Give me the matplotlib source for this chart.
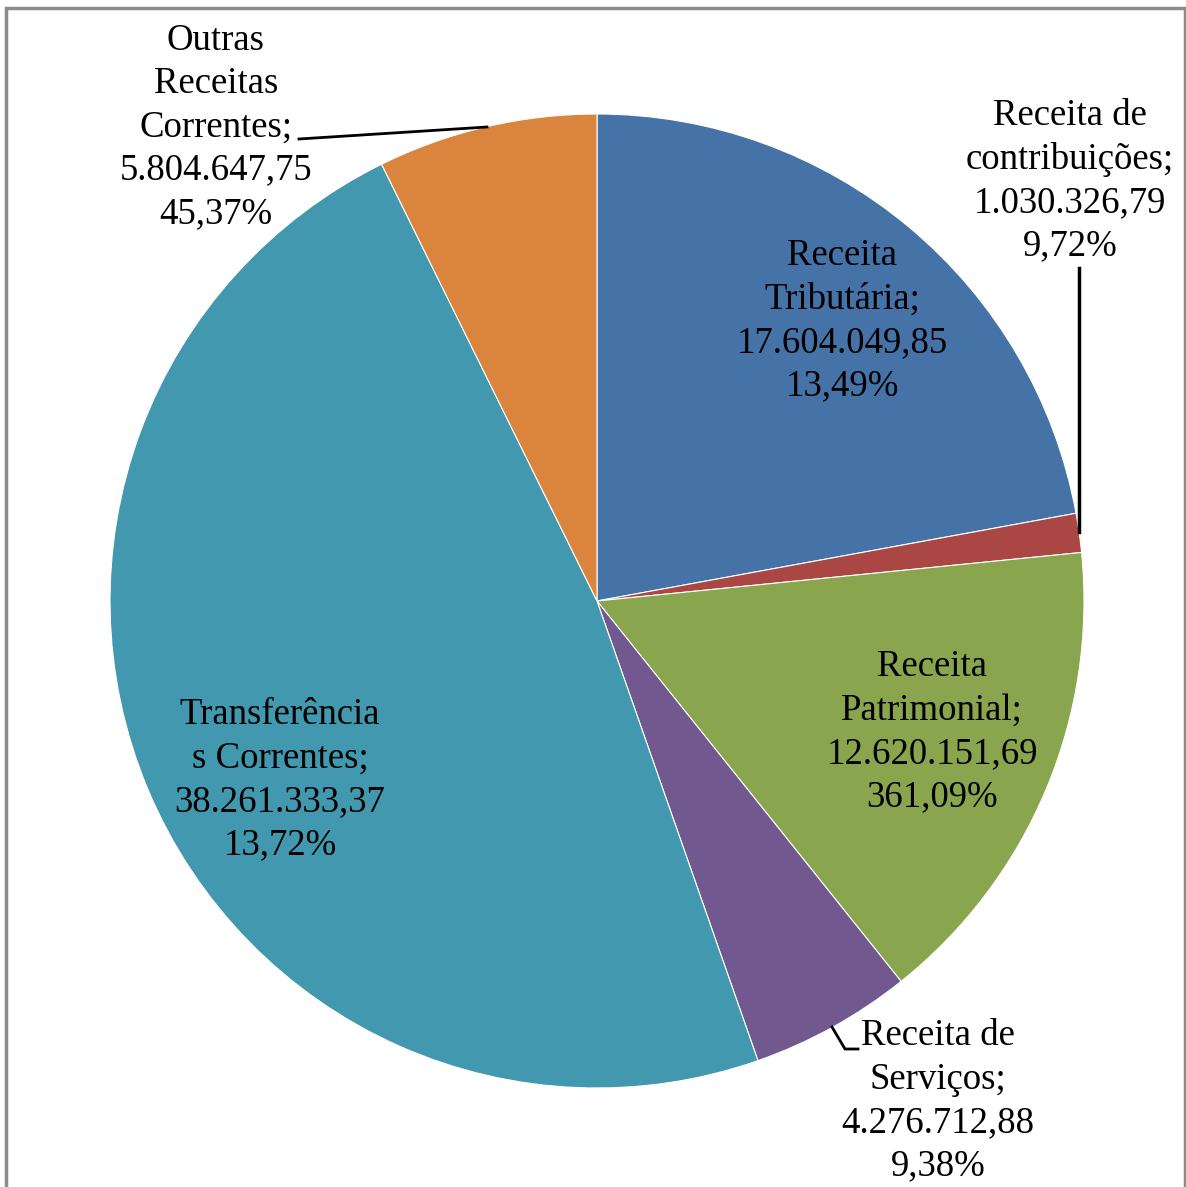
import matplotlib.pyplot as plt
from matplotlib.patches import Rectangle

# data
categories = ['Receita\nTributária;', 'Receita de\ncontribuições;', 'Receita\nPatrimonial;',
              'Receita de\nServiços;', 'Transferência\ns Correntes;', 'Outras\nReceitas\nCorrentes;']
values = [17604049.85, 1030326.79, 12620151.69, 4276712.88, 38261333.37, 5804647.75]
value_labels = ['17.604.049,85', '1.030.326,79', '12.620.151,69', '4.276.712,88',
                '38.261.333,37', '5.804.647,75']
pct_labels = ['13,49%', '9,72%', '361,09%', '9,38%', '13,72%', '45,37%']
colors = ['#4572A7', '#AA4643', '#89A54E', '#71588F', '#4198AF', '#DB843D']

W, H = 1186, 1187
plt.rcParams['font.family'] = ['Liberation Serif', 'DejaVu Serif']

fig = plt.figure(figsize=(W / 100, H / 100), dpi=100)
ax = fig.add_axes([0, 0, 1, 1])

# pie drawn in pixel coords; y axis inverted so flip direction
ax.pie(values, colors=colors, startangle=-90, counterclock=True,
       center=(597, 601), radius=487, frame=True,
       wedgeprops=dict(edgecolor='white', linewidth=0.8))
ax.set_xlim(0, W)
ax.set_ylim(H, 0)
ax.axis('off')

label_pos = [(842, 321), (1070, 181), (932, 732), (938, 1101), (280, 780), (216, 127)]
for (x, y), c, v, p in zip(label_pos, categories, value_labels, pct_labels):
    ax.text(x, y, c + '\n' + v + '\n' + p, ha='center', va='center',
            fontsize=26.5, linespacing=1.33, color='black')

# leader lines
ax.plot([1079, 1079], [268, 532], color='black', lw=2.5)
ax.plot([832, 845, 858], [1027, 1049, 1049], color='black', lw=2)
ax.plot([299, 487], [139, 127], color='black', lw=2)

# chart border
fig.patches.append(Rectangle((6 / W, -0.05), 1179 / W, 1.05 - 8 / H,
                             transform=fig.transFigure, fill=False,
                             edgecolor='#8c8c8c', linewidth=2.5))

fig.savefig('out.png', dpi=100)
